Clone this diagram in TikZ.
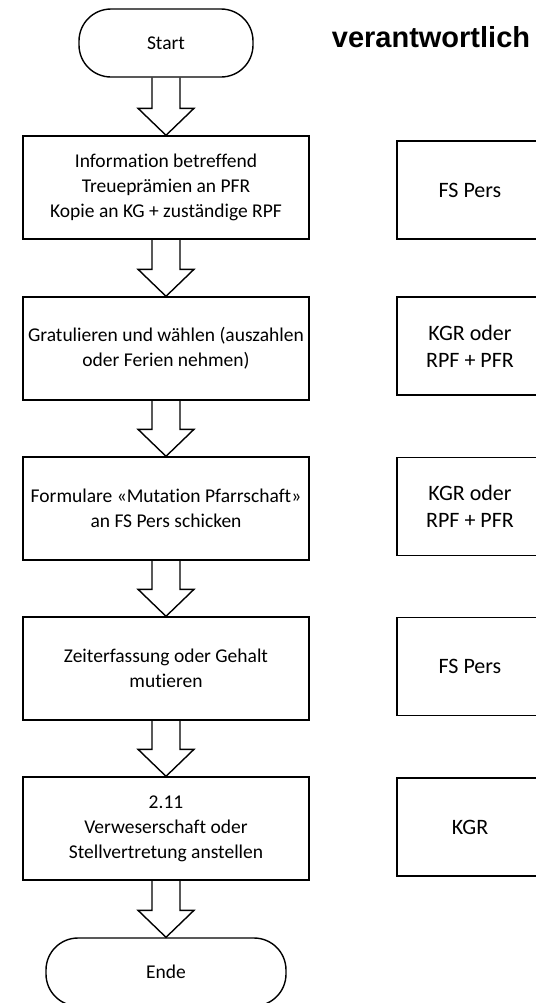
\documentclass[tikz,border=0pt]{standalone}
\usepackage{fontspec}
\setmainfont{Carlito}[Ligatures={NoCommon}]
\newfontfamily\headfont{Liberation Sans}
\usetikzlibrary{calc}

% hollow block arrow from the bottom of one node to the top of the next
\newcommand{\flowarrow}[2]{%
  \draw ($(#1.south)+(-14,0)$) -- ($(#2.north)+(-14,-27)$) -- ($(#2.north)+(-28,-27)$)
    -- (#2.north) -- ($(#2.north)+(28,-27)$) -- ($(#2.north)+(14,-27)$) -- ($(#1.south)+(14,0)$);}

\begin{document}
\begin{tikzpicture}[x=0.5pt, y=-0.5pt, line width=0.7pt,
    every node/.style={draw, align=center, font=\fontsize{9.75pt}{12.5pt}\selectfont},
    terminal/.style={rounded corners=16pt, minimum width=#1, minimum height=34pt},
    process/.style={minimum width=143pt, minimum height=51.5pt, inner sep=1pt},
    role/.style={minimum width=73pt, minimum height=49pt, font=\fontsize{11pt}{13.5pt}\selectfont}]
                \useasboundingbox (0,0) rectangle (536,1003);

                % start and end
                \node[terminal=87pt] (start) at (166,43) {Start};
                \node[terminal=120pt] (ende) at (166,972) {Ende};

                % process steps
                \node[process] (info) at (166,187.5) {Information betreffend\\Treueprämien an PFR\\Kopie an KG + zuständige RPF};
                \node[process] (wahl) at (166,348.5) {Gratulieren und wählen (auszahlen\\oder Ferien nehmen)};
                \node[process] (form) at (166,508.5) {Formulare «Mutation Pfarrschaft»\\an FS Pers schicken};
                \node[process] (zeit) at (166,668.5) {Zeiterfassung oder Gehalt\\mutieren};
                \node[process] (verw) at (166,828.5) {2.11\\Verweserschaft oder\\Stellvertretung anstellen};

                % responsible
                \node[draw=none, font=\headfont\bfseries\fontsize{14.5pt}{16pt}\selectfont] (head) at (431,37) {verantwortlich};
                \node[role] (r1) at (470,190) {FS Pers};
                \node[role] (r2) at (470,346) {KGR oder\\RPF + PFR};
                \node[role] (r3) at (470,506.5) {KGR oder\\RPF + PFR};
                \node[role] (r4) at (470,666.5) {FS Pers};
                \node[role] (r5) at (470,827) {KGR};

                % arrows
                \flowarrow{start}{info}
                \flowarrow{info}{wahl}
                \flowarrow{wahl}{form}
                \flowarrow{form}{zeit}
                \flowarrow{zeit}{verw}
                \flowarrow{verw}{ende}
            \end{tikzpicture}
\end{document}
